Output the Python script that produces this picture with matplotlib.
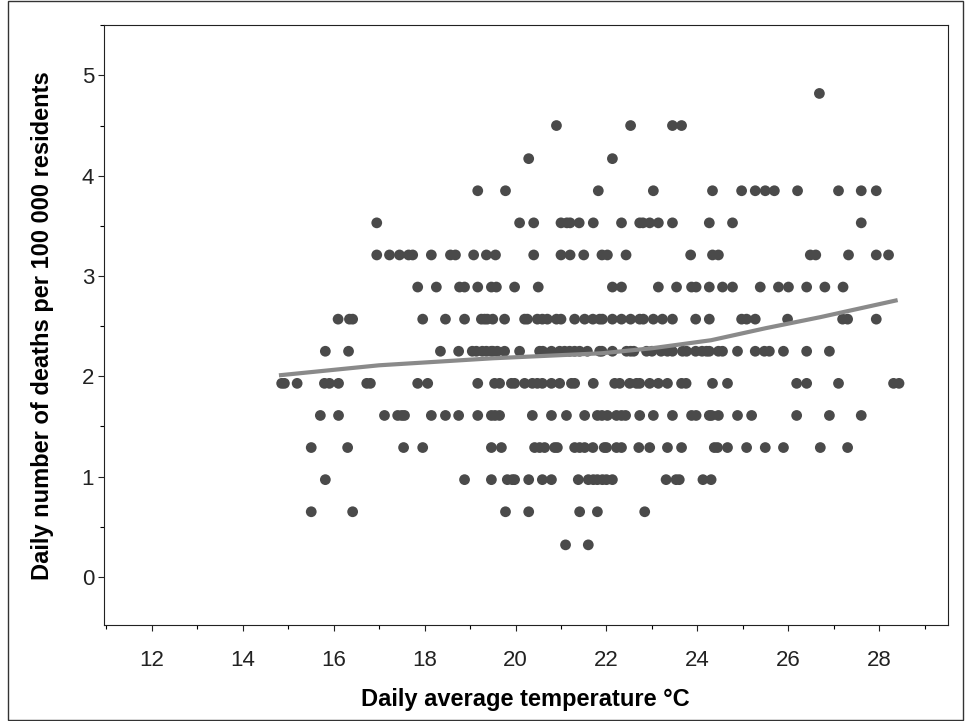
import matplotlib
matplotlib.use("Agg")
import matplotlib.pyplot as plt
from matplotlib.patches import Rectangle
from matplotlib.ticker import MultipleLocator

plt.rcParams['font.family'] = ['Liberation Sans', 'DejaVu Sans']

# death-rate levels (per 100 000) and the temperatures observed at each level
levels = [0.32, 0.65, 0.97, 1.29, 1.61, 1.93, 2.25, 2.57, 2.89, 3.21, 3.53, 3.85, 4.17, 4.5, 4.82]

temps_032 = [21.1, 21.6]
temps_064 = [15.51, 16.42, 19.78, 20.29, 21.41, 21.8, 22.84]
temps_096 = [15.82, 18.88, 19.47, 19.82, 19.93, 19.98, 20.29, 20.59, 20.79, 21.38, 21.6,
             21.71, 21.8, 21.91, 22.0, 22.13, 23.31, 23.53, 23.6, 24.12, 24.3]
temps_128 = [15.51, 16.31, 17.54, 17.96, 19.47, 19.69, 20.42, 20.53, 20.64, 20.86, 20.92,
             21.3, 21.41, 21.52, 21.7, 21.95, 22.0, 22.22, 22.33, 22.71, 22.95, 23.34,
             23.65, 24.37, 24.44, 24.66, 25.08, 25.49, 25.89, 26.7, 27.3]
temps_160 = [15.71, 16.11, 17.12, 17.41, 17.5, 17.56, 18.15, 18.46, 18.75, 19.17, 19.47,
             19.55, 19.65, 20.37, 20.79, 21.12, 21.52, 21.8, 21.9, 22.02, 22.22, 22.33,
             22.42, 22.73, 23.03, 23.45, 23.87, 23.97, 24.26, 24.31, 24.46, 24.88, 25.19,
             26.18, 26.9, 27.6]
temps_192 = [14.86, 14.92, 15.2, 15.8, 15.91, 16.11, 16.73, 16.81, 17.85, 18.07, 19.17,
             19.54, 19.65, 19.91, 19.98, 20.2, 20.37, 20.48, 20.59, 20.79, 20.97, 21.23,
             21.3, 21.71, 22.18, 22.29, 22.51, 22.66, 22.73, 22.95, 23.14, 23.34, 23.65,
             23.75, 24.33, 24.66, 26.18, 26.4, 27.1, 28.31, 28.43]
temps_224 = [15.82, 16.33, 18.35, 18.75, 19.05, 19.14, 19.27, 19.36, 19.47, 19.5, 19.6,
             19.76, 20.09, 20.53, 20.6, 20.79, 20.97, 21.08, 21.19, 21.3, 21.41, 21.58,
             21.85, 21.9, 22.13, 22.44, 22.53, 22.6, 22.88, 23.0, 23.2, 23.34, 23.45,
             23.67, 23.76, 23.96, 24.1, 24.2, 24.26, 24.46, 24.55, 24.88, 25.27, 25.47,
             25.58, 25.89, 26.4, 26.9]
temps_256 = [16.1, 16.35, 16.42, 17.96, 18.46, 18.88, 19.25, 19.32, 19.38, 19.5, 19.76,
             20.2, 20.26, 20.48, 20.59, 20.7, 20.9, 21.0, 21.3, 21.52, 21.7, 21.85, 21.91,
             22.13, 22.33, 22.53, 22.73, 22.81, 23.03, 23.23, 23.45, 23.96, 24.26, 24.97,
             25.08, 25.27, 25.98, 27.19, 27.3, 27.93]
temps_288 = [17.85, 18.26, 18.77, 18.88, 19.17, 19.47, 19.58, 19.98, 20.5, 22.13, 22.33,
             23.14, 23.54, 23.87, 23.97, 24.26, 24.55, 24.77, 25.38, 25.78, 26.0, 26.4,
             26.8, 27.2]
temps_320 = [16.95, 17.23, 17.45, 17.65, 17.74, 18.15, 18.57, 18.68, 19.08, 19.36, 19.56,
             20.4, 21.0, 21.2, 21.5, 21.9, 22.02, 22.43, 23.85, 24.33, 24.46, 26.48, 26.6,
             27.32, 27.93, 28.2]
temps_352 = [16.95, 20.09, 20.4, 21.0, 21.13, 21.2, 21.4, 21.71, 22.33, 22.73, 22.8, 22.95,
             23.14, 23.45, 24.26, 24.77, 27.6]
temps_384 = [19.17, 19.78, 21.82, 23.03, 24.33, 24.97, 25.27, 25.49, 25.69, 26.2, 27.1,
             27.6, 27.93]
temps_416 = [20.29, 22.13]
temps_448 = [20.9, 22.53, 23.45, 23.65]
temps_480 = [26.68]

rows = [temps_032, temps_064, temps_096, temps_128, temps_160, temps_192, temps_224,
        temps_256, temps_288, temps_320, temps_352, temps_384, temps_416, temps_448, temps_480]

# smoothed trend
trend_x = [14.8, 17.0, 19.5, 21.9, 23.0, 24.3, 25.5, 26.7, 28.4]
trend_y = [2.01, 2.11, 2.18, 2.23, 2.28, 2.36, 2.48, 2.59, 2.76]

xs, ys = [], []
for lev, row in zip(levels, rows):
    xs.extend(row)
    ys.extend([lev] * len(row))

fig = plt.figure(figsize=(9.7, 7.21), dpi=100)
ax = fig.add_axes([0.107, 0.133, 0.870, 0.832])

ax.scatter(xs, ys, s=60, color='#4a4a4a', edgecolors='none', zorder=2)
ax.plot(trend_x, trend_y, color='#8a8a8a', lw=3, zorder=3, solid_capstyle='butt')

ax.set_xlim(10.95, 29.5)
ax.set_ylim(-0.48, 5.5)
ax.xaxis.set_major_locator(MultipleLocator(2))
ax.xaxis.set_minor_locator(MultipleLocator(1))
ax.yaxis.set_major_locator(MultipleLocator(1))
ax.yaxis.set_minor_locator(MultipleLocator(0.5))
ax.set_xticks(range(12, 29, 2))
ax.tick_params(axis='both', which='major', direction='out', length=4, width=0.8,
               labelsize=16, colors='#222222')
ax.tick_params(axis='x', which='major', pad=14)
ax.tick_params(axis='y', which='major', pad=3)
ax.tick_params(axis='both', which='minor', direction='out', length=3, width=0.8)
for sp in ax.spines.values():
    sp.set_linewidth(0.8)
    sp.set_color('#222222')

ax.set_xlabel('Daily average temperature °C', fontsize=17, fontweight='bold', labelpad=12)
ax.set_ylabel('Daily number of deaths per 100 000 residents', fontsize=17,
              fontweight='bold', labelpad=20)

fig.patches.append(Rectangle((0.008, 0.002), 0.985, 0.996, transform=fig.transFigure,
                             fill=False, edgecolor='#333333', lw=1))

fig.savefig('out.png', dpi=100)
